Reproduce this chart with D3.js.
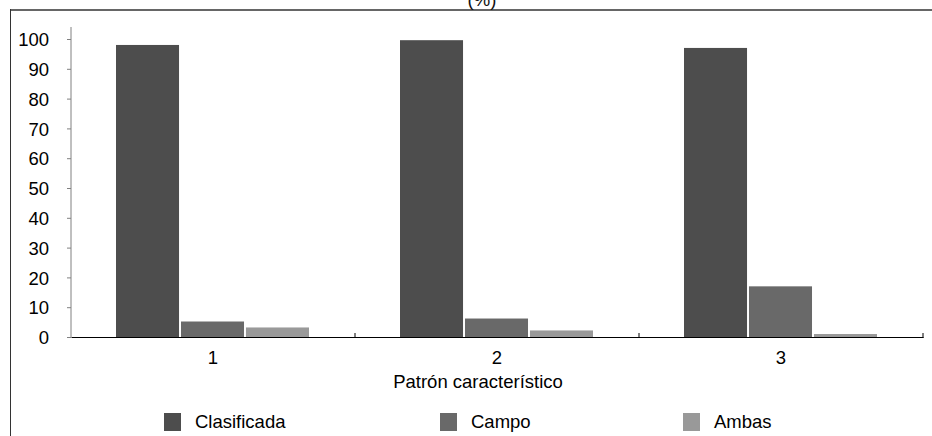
<!DOCTYPE html>
<html><head><meta charset="utf-8">
<script src="https://cdn.jsdelivr.net/npm/d3@7"></script>
<style>html,body{margin:0;padding:0;background:#fff}svg{display:block;font-family:"Liberation Sans",Arial,sans-serif}</style>
</head><body><svg id="c" width="932" height="436"></svg>
<script>
const categories = ["1","2","3"];
const series = ["Clasificada","Campo","Ambas"];
const clasificada = [98, 99.6, 97];
const campo = [5.2, 6.2, 17];
const ambas = [3.2, 2.2, 1];
const yTicks = [0,10,20,30,40,50,60,70,80,90,100];
const colors = ["#4d4d4d","#696969","#999999"];
const values = [clasificada, campo, ambas];
const FS = 18.5;
const FF = "Liberation Sans, Arial, sans-serif";

const svg = d3.select("#c");
const x = d3.scaleBand().domain(categories).range([71, 923]);
const xs = d3.scaleBand().domain(series).range([45, 238]).paddingInner(0.03);
const y = d3.scaleLinear().domain([0,100]).range([337, 39]);
const col = d3.scaleOrdinal().domain(series).range(colors);

// frame
svg.append("line").attr("x1",10).attr("x2",932).attr("y1",10).attr("y2",10).attr("stroke","#666").attr("stroke-width",2);
svg.append("line").attr("x1",10.5).attr("x2",10.5).attr("y1",9).attr("y2",436).attr("stroke","#333").attr("stroke-width",1);

svg.append("text").attr("x",482).attr("y",6).attr("text-anchor","middle").attr("font-size",FS).attr("fill","#111").text("(%)");

// bars
const groups = svg.selectAll("g.cat").data(categories).join("g").attr("class","cat")
  .attr("transform", d => `translate(${x(d)},0)`);
groups.selectAll("rect").data((d,i) => series.map((s,j) => ({s, v: values[j][i]}))).join("rect")
  .attr("x", d => xs(d.s)).attr("width", xs.bandwidth())
  .attr("y", d => y(d.v)).attr("height", d => y(0) - y(d.v))
  .attr("fill", d => col(d.s));

// y axis
const ya = svg.append("g").attr("transform","translate(71,0)")
  .call(d3.axisLeft(y).tickValues(yTicks).tickSize(4).tickSizeOuter(0).tickPadding(18));
ya.attr("font-size",FS).attr("font-family",FF);
ya.select(".domain").remove();
ya.append("line").attr("x1",0).attr("x2",0).attr("y1",27).attr("y2",337).attr("stroke","#808080");
ya.selectAll(".tick line").attr("stroke","#808080");
ya.selectAll(".tick text").attr("fill","#000").attr("dy","0.36em");

// x axis
const xa = svg.append("g").attr("transform","translate(0,337)")
  .call(d3.axisBottom(x).tickSize(0).tickPadding(14));
xa.attr("font-size",FS).attr("font-family",FF);
xa.select(".domain").attr("stroke","#000").attr("stroke-width",1.2);
xa.selectAll(".tick text").attr("fill","#000");
// boundary ticks
const bounds = categories.map(c => x(c) + x.bandwidth());
svg.append("g").selectAll("line").data(bounds).join("line")
  .attr("x1", d => d).attr("x2", d => d).attr("y1", 333).attr("y2", 338).attr("stroke","#000");

svg.append("text").attr("x",478).attr("y",388).attr("text-anchor","middle").attr("font-size",FS).attr("fill","#000").text("Patrón característico");

// legend
const legX = [164, 440, 683];
const lg = svg.append("g").selectAll("g").data(series).join("g")
  .attr("transform",(d,i) => `translate(${legX[i]},413)`);
lg.append("rect").attr("width",17).attr("height",18).attr("fill", d => col(d));
lg.append("text").attr("x",31).attr("y",14.5).attr("font-size",FS).attr("fill","#000").text(d => d);
</script></body></html>
